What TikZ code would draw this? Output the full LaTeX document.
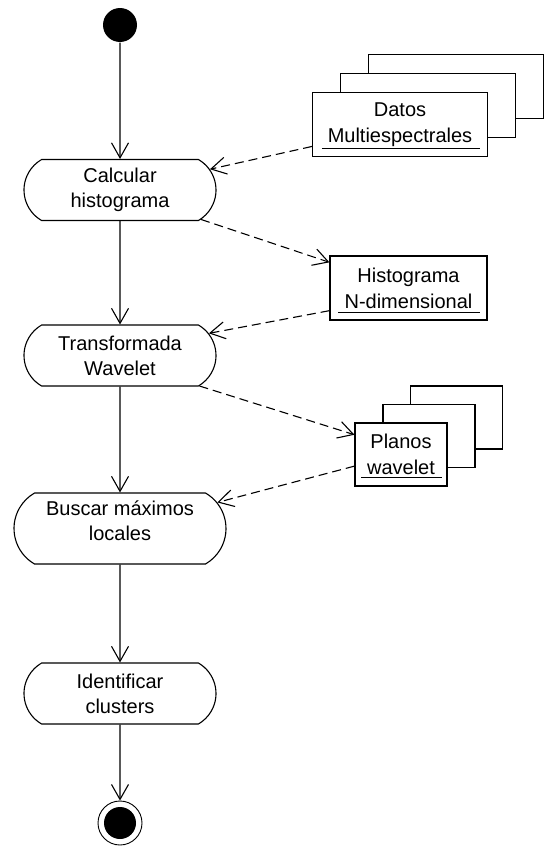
\documentclass[tikz,border=0pt]{standalone}
\usepackage{fontspec}
\setmainfont{Liberation Sans}
\usetikzlibrary{shapes.misc,arrows.meta}
\newlength{\lw}
\setlength{\lw}{1.1pt}

\begin{document}
\begin{tikzpicture}[x=1pt,y=-1pt,line width=\lw,
    actividad/.style={draw,fill=white,rounded rectangle,rounded rectangle arc length=120,minimum width=196pt,minimum height=61pt,inner sep=2pt,align=center,font=\fontsize{20}{25}\selectfont},
    objeto/.style={draw,fill=white,rectangle,minimum width=175pt,minimum height=64pt,inner sep=2pt,align=center,font=\fontsize{20}{26}\selectfont},
    flujo/.style={-{Straight Barb[length=15pt,width=17pt]}},
    datoflujo/.style={flujo,dash pattern=on 9pt off 5pt}]
            \useasboundingbox (0,0) rectangle (546,846);
            \node[fill=black,circle,minimum size=34pt,inner sep=0pt] (inicio) at (120,25){};
            \node[actividad] (calc) at (120,190){Calcular\\histograma};
            \node[actividad] (trans) at (120,355.5){Transformada\\Wavelet};
            \node[actividad,minimum width=216pt,minimum height=71pt,text depth=16pt] (buscar) at (120,528.5){Buscar m\'aximos\\locales};
            \node[actividad] (ident) at (120,693.5){Identificar\\clusters};
            \node[draw,circle,line width=0.9pt,minimum size=44pt,inner sep=0pt] (fin) at (120,823){};
            \node[fill=black,circle,minimum size=32pt,inner sep=0pt] (finpunto) at (fin){};
            \node[objeto] (datos3) at (456,86.5){};
            \node[objeto] (datos2) at (428,105.5){};
            \node[objeto] (datos) at (400,124.5){Datos\\Multiespectrales};
            \draw([shift={(10,-9)}]datos.south west)--([shift={(-8,-9)}]datos.south east);
            \node[objeto,minimum width=157pt] (hist) at (408.5,288){Histograma\\N-dimensional};
            \draw([shift={(9,-8)}]hist.south west)--([shift={(-8,-8)}]hist.south east);
            \node[objeto,minimum width=92pt,minimum height=63pt] (planos3) at (456.5,417.5){};
            \node[objeto,minimum width=92pt,minimum height=63pt] (planos2) at (429,436){};
            \node[objeto,minimum width=92pt,minimum height=63pt] (planos) at (401,454.5){Planos\\wavelet};
            \draw([shift={(7,-9)}]planos.south west)--([shift={(-6,-9)}]planos.south east);
            \draw[flujo](inicio)--(calc);
            \draw[flujo](calc)--(trans);
            \draw[flujo](trans)--(buscar);
            \draw[flujo](buscar)--(ident);
            \draw[flujo](ident)--(fin);
            \draw[datoflujo](datos.194)--(calc.13);
            \draw[datoflujo](calc.-20)--(hist.162);
            \draw[datoflujo](hist.196)--(trans.14);
            \draw[datoflujo](trans.-21)--(planos.157);
            \draw[datoflujo](planos.194)--(buscar.15);
\end{tikzpicture}
\end{document}
